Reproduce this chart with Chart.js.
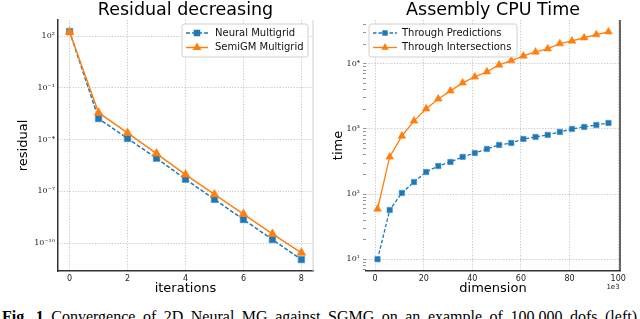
<!DOCTYPE html>
<html>
<head>
<meta charset="utf-8">
<script src="https://cdn.jsdelivr.net/npm/chart.js@4/dist/chart.umd.min.js"></script>
<style>
  html, body { margin: 0; padding: 0; background: #fff; }
  body { width: 640px; height: 319px; position: relative; overflow: hidden; }
  #left-chart { position: absolute; left: 0; top: 0; }
  #right-chart { position: absolute; left: 320px; top: 0; }
  #caption {
    position: absolute; left: 2px; top: 309px; width: 635px;
    font: 16px "Liberation Serif", serif; line-height: 16px; color: #000;
    text-align: justify; text-align-last: justify; white-space: normal;
  }
</style>
</head>
<body>
<canvas id="left-chart" width="320" height="300"></canvas>
<canvas id="right-chart" width="320" height="300"></canvas>
<div id="caption"><b>Fig. 1</b> Convergence of 2D Neural MG against SGMG on an example of 100,000 dofs (left)</div>
<script>
// residual per iteration
const iterations = [0, 1, 2, 3, 4, 5, 6, 7, 8];
const neuralResidual = [180, 1.65e-3, 1.15e-4, 8.3e-6, 5e-7, 3.4e-8, 2.3e-9, 1.6e-10, 1.1e-11];
const semiGMResidual = [170, 3.6e-3, 2.4e-4, 1.55e-5, 9.3e-7, 6.6e-8, 4.8e-9, 3.4e-10, 2.7e-11];

// assembly time vs dimension (x in 1e3)
const dimensions = [1, 6, 11, 16, 21, 26, 31, 36, 41, 46, 51, 56, 61, 66, 71, 76, 81, 86, 91, 96];
const predictionTimes = [10, 57, 104, 153, 218, 270, 311, 372, 427, 492, 568, 609, 702, 753, 809, 899, 1000, 1073, 1150, 1235];
const intersectionTimes = [59, 372, 780, 1330, 2040, 2890, 3840, 5100, 6300, 7550, 9600, 11200, 13200, 15200, 17000, 20400, 22400, 25100, 28100, 31000];

// ticks
const residualXTicks = [0, 2, 4, 6, 8];
const residualYTicks = [1e-10, 1e-7, 1e-4, 1e-1, 1e2];
const residualYLabels = ["10\u207B\u00B9\u2070", "10\u207B\u2077", "10\u207B\u2074", "10\u207B\u00B9", "10\u00B2"];
const timeXTicks = [0, 20, 40, 60, 80, 100];
const timeYTicks = [10, 100, 1000, 10000];
const timeYLabels = ["10\u00B9", "10\u00B2", "10\u00B3", "10\u2074"];

const BLUE = "#1f77b4";
const ORANGE = "#ff7f0e";
const GRID = "#b9b9b9";
const AXIS = "#333";

Chart.defaults.font.family = "DejaVu Sans";
Chart.defaults.color = "#222";

function toPoints(xs, ys) {
  return xs.map((x, i) => ({ x: x, y: ys[i] }));
}

function minorLogTicks(min, max) {
  const out = [];
  for (let p = Math.floor(Math.log10(min)); p <= Math.ceil(Math.log10(max)); p++) {
    for (let m = 2; m < 10; m++) {
      const v = m * Math.pow(10, p);
      if (v >= min && v <= max) out.push({ value: v, minor: true });
    }
  }
  return out;
}

const decor = {
  id: "decor",
  afterDraw(chart, args, opts) {
    const { ctx, chartArea: a } = chart;
    ctx.save();

    // extra spine on the right
    ctx.strokeStyle = opts.rightSpine;
    ctx.lineWidth = opts.rightSpineWidth;
    ctx.beginPath();
    ctx.moveTo(a.right, a.top);
    ctx.lineTo(a.right, a.bottom);
    ctx.stroke();

    ctx.fillStyle = "#000";
    ctx.textAlign = "center";
    ctx.textBaseline = "alphabetic";
    ctx.font = '17.5px "DejaVu Sans"';
    ctx.fillText(opts.title, (a.left + a.right) / 2, 15);

    ctx.font = '13px "DejaVu Sans"';
    ctx.textBaseline = "middle";
    ctx.fillText(opts.xLabel, (a.left + a.right) / 2, 289);

    if (opts.offsetText) {
      ctx.font = '7px "DejaVu Sans"';
      ctx.fillStyle = "#222";
      ctx.fillText(opts.offsetText, a.right - 7, 287);
      ctx.fillStyle = "#000";
    }

    ctx.save();
    ctx.font = '13px "DejaVu Sans"';
    ctx.translate(opts.yLabelX, (a.top + a.bottom) / 2);
    ctx.rotate(-Math.PI / 2);
    ctx.fillText(opts.yLabel, 0, 0);
    ctx.restore();

    // legend box
    const L = opts.legend;
    ctx.fillStyle = "rgba(255,255,255,0.85)";
    ctx.strokeStyle = "#d0d0d0";
    ctx.lineWidth = 1;
    ctx.beginPath();
    ctx.roundRect(L.x, L.y, L.w, L.h, 2.5);
    ctx.fill();
    ctx.stroke();

    chart.data.datasets.forEach((ds, i) => {
      const y = L.y + 9 + i * 14.5;
      ctx.strokeStyle = ds.borderColor;
      ctx.lineWidth = ds.borderWidth;
      ctx.setLineDash(ds.borderDash || []);
      ctx.beginPath();
      ctx.moveTo(L.lineX, y);
      ctx.lineTo(L.lineX + L.lineW, y);
      ctx.stroke();
      ctx.setLineDash([]);
      const cx = L.lineX + L.lineW / 2;
      const r = ds.pointRadius;
      ctx.fillStyle = ds.backgroundColor;
      ctx.beginPath();
      if (ds.pointStyle === "rect") {
        const s = r * Math.SQRT1_2;
        ctx.rect(cx - s, y - s, 2 * s, 2 * s);
      } else {
        ctx.moveTo(cx, y - r);
        ctx.lineTo(cx + r * 0.866, y + r * 0.5);
        ctx.lineTo(cx - r * 0.866, y + r * 0.5);
        ctx.closePath();
      }
      ctx.fill();
      ctx.fillStyle = "#111";
      ctx.textAlign = "left";
      ctx.font = '10px "DejaVu Sans"';
      ctx.fillText(ds.label, L.textX, y);
    });

    ctx.restore();
  }
};

function makeChart(canvas, cfg) {
  return new Chart(canvas, {
    type: "line",
    data: { datasets: cfg.datasets },
    options: {
      responsive: false,
      animation: false,
      devicePixelRatio: 1,
      layout: { padding: { top: 20, right: cfg.padRight, left: 0, bottom: 0 } },
      plugins: {
        legend: { display: false },
        tooltip: { enabled: false },
        decor: cfg.decor
      },
      scales: {
        x: {
          type: "linear",
          min: cfg.xMin,
          max: cfg.xMax,
          afterFit: (s) => { s.height = 29; },
          afterBuildTicks: (s) => { s.ticks = cfg.xTicks.map((v) => ({ value: v })); },
          ticks: { font: { size: 8 }, padding: 3, maxRotation: 0, autoSkip: false, color: "#222" },
          grid: { color: GRID, lineWidth: 0.8, drawTicks: false },
          border: { display: true, color: AXIS, width: 1.5, dash: [1.2, 1.6] }
        },
        y: {
          type: "logarithmic",
          min: cfg.yMin,
          max: cfg.yMax,
          afterFit: (s) => { s.width = cfg.yWidth; },
          afterBuildTicks: (s) => {
            const major = cfg.yTicks.map((v) => ({ value: v, minor: false }));
            s.ticks = cfg.yMinor ? major.concat(minorLogTicks(cfg.yMin, cfg.yMax)) : major;
            s.ticks.sort((p, q) => p.value - q.value);
          },
          ticks: {
            font: { size: 8, family: "DejaVu Serif" },
            padding: cfg.yMinor ? 3 : 3,
            autoSkip: false,
            color: "#222",
            callback: function (value) {
              const k = cfg.yTicks.indexOf(value);
              return k >= 0 ? cfg.yLabels[k] : "";
            }
          },
          grid: {
            color: (c) => (c.tick && c.tick.minor ? "rgba(0,0,0,0)" : GRID),
            tickColor: (c) => (cfg.yMinor ? "#777" : "rgba(0,0,0,0)"),
            lineWidth: 0.8,
            drawTicks: cfg.yMinor,
            tickLength: 3
          },
          border: { display: cfg.leftSpine, color: AXIS, width: 1.5, dash: [1.2, 1.6] }
        }
      }
    },
    plugins: [decor]
  });
}

makeChart(document.getElementById("left-chart"), {
  datasets: [
    {
      label: "Neural Multigrid",
      data: toPoints(iterations, neuralResidual),
      borderColor: BLUE, backgroundColor: BLUE, borderWidth: 1.5, borderDash: [4, 2],
      pointStyle: "rect", pointRadius: 4.6, pointBorderWidth: 0.6, pointBorderColor: "#4a93c8",
      tension: 0, order: 1
    },
    {
      label: "SemiGM Multigrid",
      data: toPoints(iterations, semiGMResidual),
      borderColor: ORANGE, backgroundColor: ORANGE, borderWidth: 1.5,
      pointStyle: "triangle", pointRadius: 5, pointBorderWidth: 0.6, pointBorderColor: ORANGE,
      tension: 0, order: 0
    }
  ],
  xMin: -0.4, xMax: 8.4, xTicks: residualXTicks,
  yMin: 2.4e-12, yMax: 850, yTicks: residualYTicks, yLabels: residualYLabels, yMinor: false,
  yWidth: 58, padRight: 7, leftSpine: true,
  decor: {
    title: "Residual decreasing", xLabel: "iterations", yLabel: "residual", yLabelX: 24,
    rightSpine: "#cfcfcf", rightSpineWidth: 1,
    legend: { x: 182, y: 24, w: 126, h: 33, lineX: 186, lineW: 22, textX: 215 }
  }
});

makeChart(document.getElementById("right-chart"), {
  datasets: [
    {
      label: "Through Predictions",
      data: toPoints(dimensions, predictionTimes),
      borderColor: BLUE, backgroundColor: BLUE, borderWidth: 1.3, borderDash: [3.5, 2],
      pointStyle: "rect", pointRadius: 3.8, pointBorderWidth: 0.6, pointBorderColor: "#4a93c8",
      tension: 0, order: 1
    },
    {
      label: "Through Intersections",
      data: toPoints(dimensions, intersectionTimes),
      borderColor: ORANGE, backgroundColor: ORANGE, borderWidth: 1.3,
      pointStyle: "triangle", pointRadius: 4.4, pointBorderWidth: 0.6, pointBorderColor: ORANGE,
      tension: 0, order: 0
    }
  ],
  xMin: -3.75, xMax: 100.75, xTicks: timeXTicks,
  yMin: 6.6, yMax: 47000, yTicks: timeYTicks, yLabels: timeYLabels, yMinor: true,
  yWidth: 46, padRight: 20, leftSpine: false,
  decor: {
    title: "Assembly CPU Time", xLabel: "dimension", yLabel: "time", yLabelX: 19, offsetText: "1e3",
    rightSpine: AXIS, rightSpineWidth: 1.5,
    legend: { x: 49, y: 24, w: 148, h: 33, lineX: 53, lineW: 24, textX: 82 }
  }
});
</script>
</body>
</html>
